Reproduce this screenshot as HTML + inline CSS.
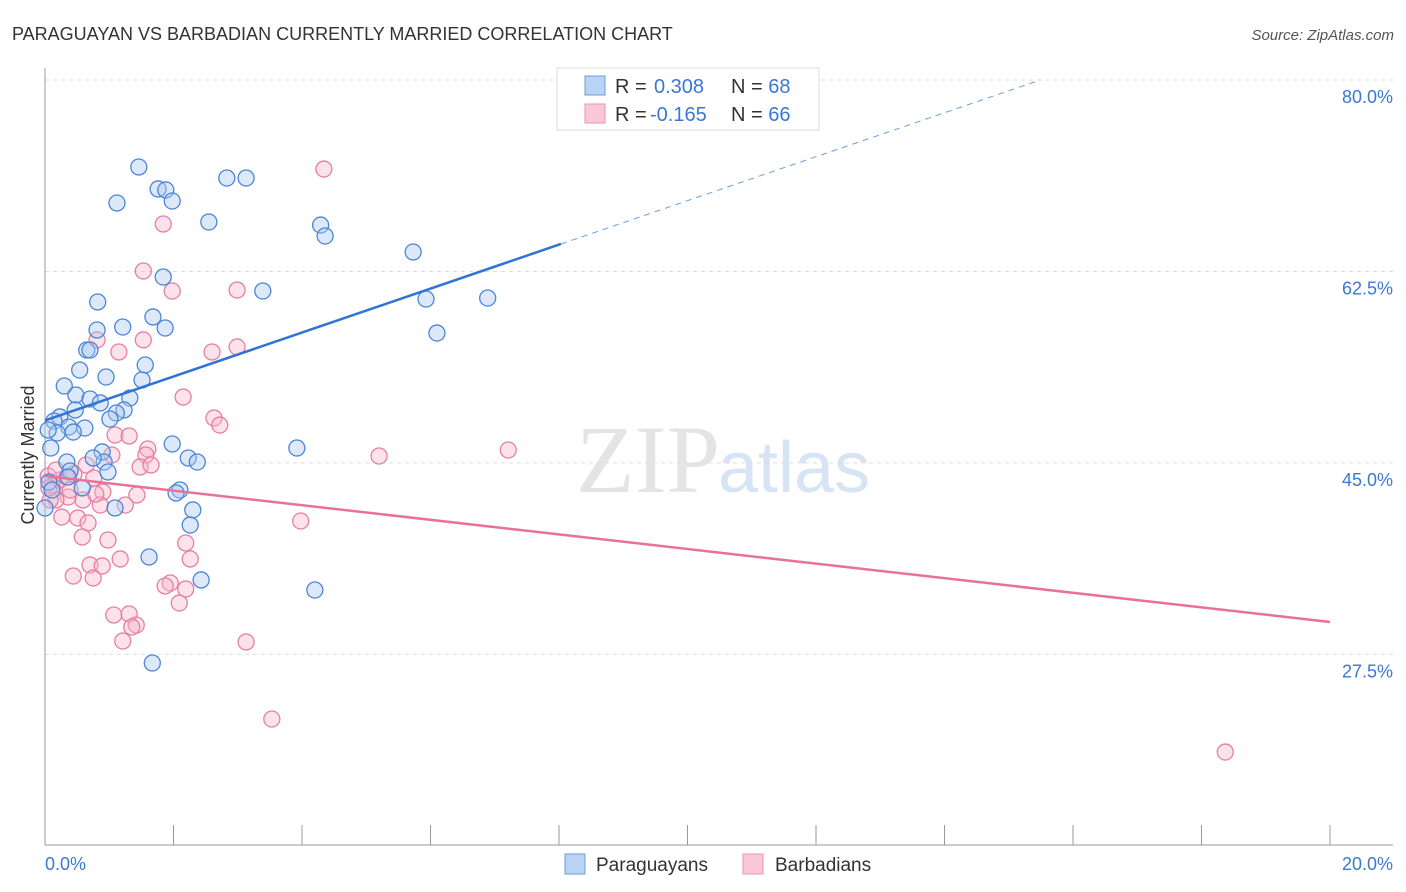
<!DOCTYPE html>
<html><head><meta charset="utf-8"><style>
body{margin:0;background:#fff;font-family:"Liberation Sans",sans-serif;}
svg{display:block}
</style></head><body>
<svg id="chart" width="1406" height="892" xmlns="http://www.w3.org/2000/svg">
<text x="12" y="40" font-size="18" fill="#333">PARAGUAYAN VS BARBADIAN CURRENTLY MARRIED CORRELATION CHART</text>
<text x="1394" y="40" font-size="15" fill="#555" font-style="italic" text-anchor="end">Source: ZipAtlas.com</text>
<text x="720" y="492" font-size="96" fill="#e4e4e4" text-anchor="end" font-family="Liberation Serif">ZIP</text>
<text x="718" y="492" font-size="72" fill="#d7e4f4">atlas</text>
<text transform="translate(34,455) rotate(-90)" font-size="18" fill="#333" text-anchor="middle">Currently Married</text>
<g id="grid"></g><g id="axes"></g><g id="pts"></g><g id="lines"></g>
<g>
<rect x="557" y="68" width="262" height="62" fill="#fff" stroke="#ddd"/>
<rect x="585" y="76" width="20" height="19" fill="#b9d3f5" stroke="#6a9ee0"/>
<rect x="585" y="104" width="20" height="19" fill="#f9c7d6" stroke="#ea94b2"/>
<text x="615" y="93" font-size="20" fill="#333">R = <tspan fill="#3b78d6" x="654">0.308</tspan><tspan x="731" fill="#333">N = </tspan><tspan fill="#3b78d6">68</tspan></text>
<text x="615" y="121" font-size="20" fill="#333">R = <tspan fill="#3b78d6" x="650">-0.165</tspan><tspan x="731" fill="#333">N = </tspan><tspan fill="#3b78d6">66</tspan></text>
</g>
<g>
<rect x="565" y="854" width="20" height="20" fill="#b9d3f5" stroke="#6a9ee0"/>
<text x="596" y="871" font-size="19" fill="#333">Paraguayans</text>
<rect x="743" y="854" width="20" height="20" fill="#f9c7d6" stroke="#ea94b2"/>
<text x="775" y="871" font-size="19" fill="#333">Barbadians</text>
</g>
</svg>
<script>
const yTicks=[80,62.5,45,27.5];
const yTickLabels=["80.0%","62.5%","45.0%","27.5%"];
const xTickLabels=["0.0%","20.0%"];
const blueX=[1.46,1.76,1.88,1.98,1.12,2.83,3.13,2.55,4.29,4.36,5.73,1.84,3.39,0.82,5.93,6.89,1.68,1.21,1.87,0.81,6.10,0.65,0.70,1.56,0.54,0.95,1.51,0.30,0.48,0.70,1.32,0.86,1.23,1.11,0.47,1.01,0.23,0.14,0.37,0.62,0.44,0.19,1.98,3.92,0.09,0.89,2.23,2.37,0.34,0.92,0.98,0.39,0.06,0.58,2.10,2.04,1.09,2.30,0,2.26,1.62,2.43,4.20,1.67,0.11,0.36,0.75,0.05];
const blueY=[72.05,70.04,69.95,68.94,68.76,71.04,71.04,67.02,66.74,65.74,64.28,61.99,60.71,59.71,59.98,60.07,58.34,57.42,57.33,57.15,56.87,55.32,55.32,53.95,53.49,52.85,52.58,52.03,51.21,50.84,50.93,50.48,49.84,49.56,49.84,49.01,49.20,48.83,48.28,48.19,47.82,47.73,46.73,46.36,46.36,46.00,45.45,45.08,45.08,45.08,44.17,44.26,43.25,42.71,42.52,42.25,40.88,40.70,40.88,39.32,36.40,34.30,33.38,26.71,42.52,43.71,45.45,48.01];
const pinkX=[4.34,1.84,1.53,1.98,2.99,0.81,1.53,2.60,2.99,1.15,2.15,2.63,2.72,1.09,1.31,1.60,7.21,5.20,1.57,1.04,1.48,1.65,0.64,0.45,0.23,0.05,0.11,0.34,0.76,0.90,1.43,0.36,0.17,1.25,0.86,0.26,0.51,0.67,3.98,0.58,0.98,2.19,1.17,0.70,0.89,2.26,0.44,0.75,1.95,2.19,1.87,2.09,1.07,1.31,1.42,1.35,1.21,3.13,3.53,18.37,0.08,0.06,0.17,0.39,0.59,0.79];
const pinkY=[71.86,66.84,62.54,60.71,60.80,56.24,56.24,55.14,55.60,55.14,51.02,49.10,48.46,47.55,47.46,46.27,46.18,45.63,45.72,45.72,44.63,44.81,44.81,43.99,43.44,43.80,42.89,43.71,43.62,42.34,42.07,41.88,41.61,41.15,41.15,40.05,39.96,39.51,39.69,38.23,37.95,37.68,36.22,35.67,35.58,36.22,34.66,34.48,34.02,33.47,33.75,32.19,31.10,31.19,30.18,30.00,28.72,28.63,21.59,18.57,41.61,42.71,44.35,42.52,41.61,42.16];
const blueTrend=[[0,48.88],[8.03,65.01],[15.49,80]];
const pinkTrend=[[0,43.8],[20,30.46]];
const NS="http://www.w3.org/2000/svg";
const X=v=>45+v*64.25, Y=v=>80+(80-v)*10.94;
function mk(tag,attrs,parent){const e=document.createElementNS(NS,tag);for(const k in attrs)e.setAttribute(k,attrs[k]);document.getElementById(parent).appendChild(e);return e;}
yTicks.forEach((t,i)=>{
 const l=mk('line',{x1:45,x2:1393,y1:Y(t),y2:Y(t),stroke:'#ddd','stroke-dasharray':'4,4'},'grid');
 
 
 const tx=mk('text',{x:1393,y:Y(t)+23,'font-size':18,fill:'#3b78d6','text-anchor':'end'},'grid');
 tx.textContent=yTickLabels[i];
 
 
});
const ax=mk('line',{x1:45,x2:1393,y1:845,y2:845,stroke:'#999'},'axes');


const ay=mk('line',{x1:45,x2:45,y1:68,y2:845,stroke:'#999'},'axes');


for(let v=0;v<=20;v+=2){
 const t=mk('line',{x1:X(v),x2:X(v),y1:825,y2:845,stroke:'#999'},'axes');
 
 
}
[[0,'start'],[20,'end']].forEach(([v,a],i)=>{
 const tx=mk('text',{x:X(v)+(i?63:0),y:870,'font-size':18,fill:'#3b78d6','text-anchor':a},'axes');
 tx.textContent=xTickLabels[i];
 
 
});
function pts(xs,ys,fill,stroke,name){xs.forEach((x,i)=>{
 const c=mk('circle',{cx:X(x),cy:Y(ys[i]),r:8,fill:fill,'fill-opacity':0.4,stroke:stroke,'stroke-width':1.3},'pts');
 
 
});}
pts(pinkX,pinkY,'#f7b6cb','#e77fa2','barbadian-point');
pts(blueX,blueY,'#a9c9f0','#4a86d8','paraguayan-point');
const b1=mk('line',{x1:X(blueTrend[0][0]),y1:Y(blueTrend[0][1]),x2:X(blueTrend[1][0]),y2:Y(blueTrend[1][1]),stroke:'#2f74d5','stroke-width':2.5},'lines');


const b2=mk('line',{x1:X(blueTrend[1][0]),y1:Y(blueTrend[1][1]),x2:X(blueTrend[2][0]),y2:Y(blueTrend[2][1]),stroke:'#6a9ee0','stroke-width':1,'stroke-dasharray':'6,5'},'lines');


const p1=mk('line',{x1:X(pinkTrend[0][0]),y1:Y(pinkTrend[0][1]),x2:X(pinkTrend[1][0]),y2:Y(pinkTrend[1][1]),stroke:'#e8719a','stroke-width':2.5},'lines');


</script>
</body></html>
